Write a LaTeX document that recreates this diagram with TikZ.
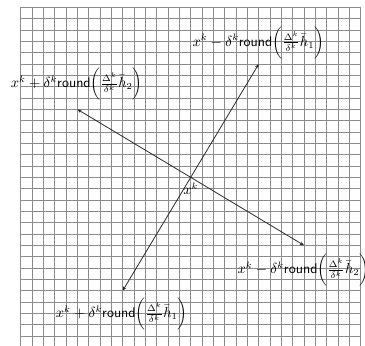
\documentclass[tikz,border=0pt]{standalone}
\usetikzlibrary{arrows.meta}
\begin{document}
\begin{tikzpicture}[x=8.5pt,y=8.5pt,
  gridline/.style={draw=gray!90, line width=0.55pt},
  vec/.style={draw=black!85, line width=0.6pt, -{Stealth[length=3.2pt,width=2.6pt]}},
  lab/.style={inner sep=0pt, font=\fontsize{10.5}{12.5}\selectfont}]
\useasboundingbox (-16.83,-14.8) rectangle (15.38,15.65);
\clip (-16.83,-14.8) rectangle (15.38,15.65);
\draw[gridline, step=8.5pt] (-15,-15) grid (15,15);
\coordinate (c) at (0,0);
\coordinate (t1) at (6,10);
\coordinate (t2) at (-6,-10);
\coordinate (t3) at (-10,6);
\coordinate (t4) at (10,-6);
\draw[vec] (c) -- (t1);
\draw[vec] (c) -- (t2);
\draw[vec] (c) -- (t3);
\draw[vec] (c) -- (t4);
\node[lab] (l1) at (5.97,11.89) {$x^k-\delta^k\textsf{round}\bigg(\frac{\Delta^k}{\delta^k}\bar{h}_1\bigg)$};
\node[lab] (l2) at (-6.09,-12.06) {$x^k+\delta^k\textsf{round}\bigg(\frac{\Delta^k}{\delta^k}\bar{h}_1\bigg)$};
\node[lab] (l3) at (-10.06,8.23) {$x^k+\delta^k\textsf{round}\bigg(\frac{\Delta^k}{\delta^k}\bar{h}_2\bigg)$};
\node[lab] (l4) at (9.95,-8.18) {$x^k-\delta^k\textsf{round}\bigg(\frac{\Delta^k}{\delta^k}\bar{h}_2\bigg)$};
\node[lab] (lc) at (0,-1.03) {$x^k$};
\end{tikzpicture}
\end{document}
